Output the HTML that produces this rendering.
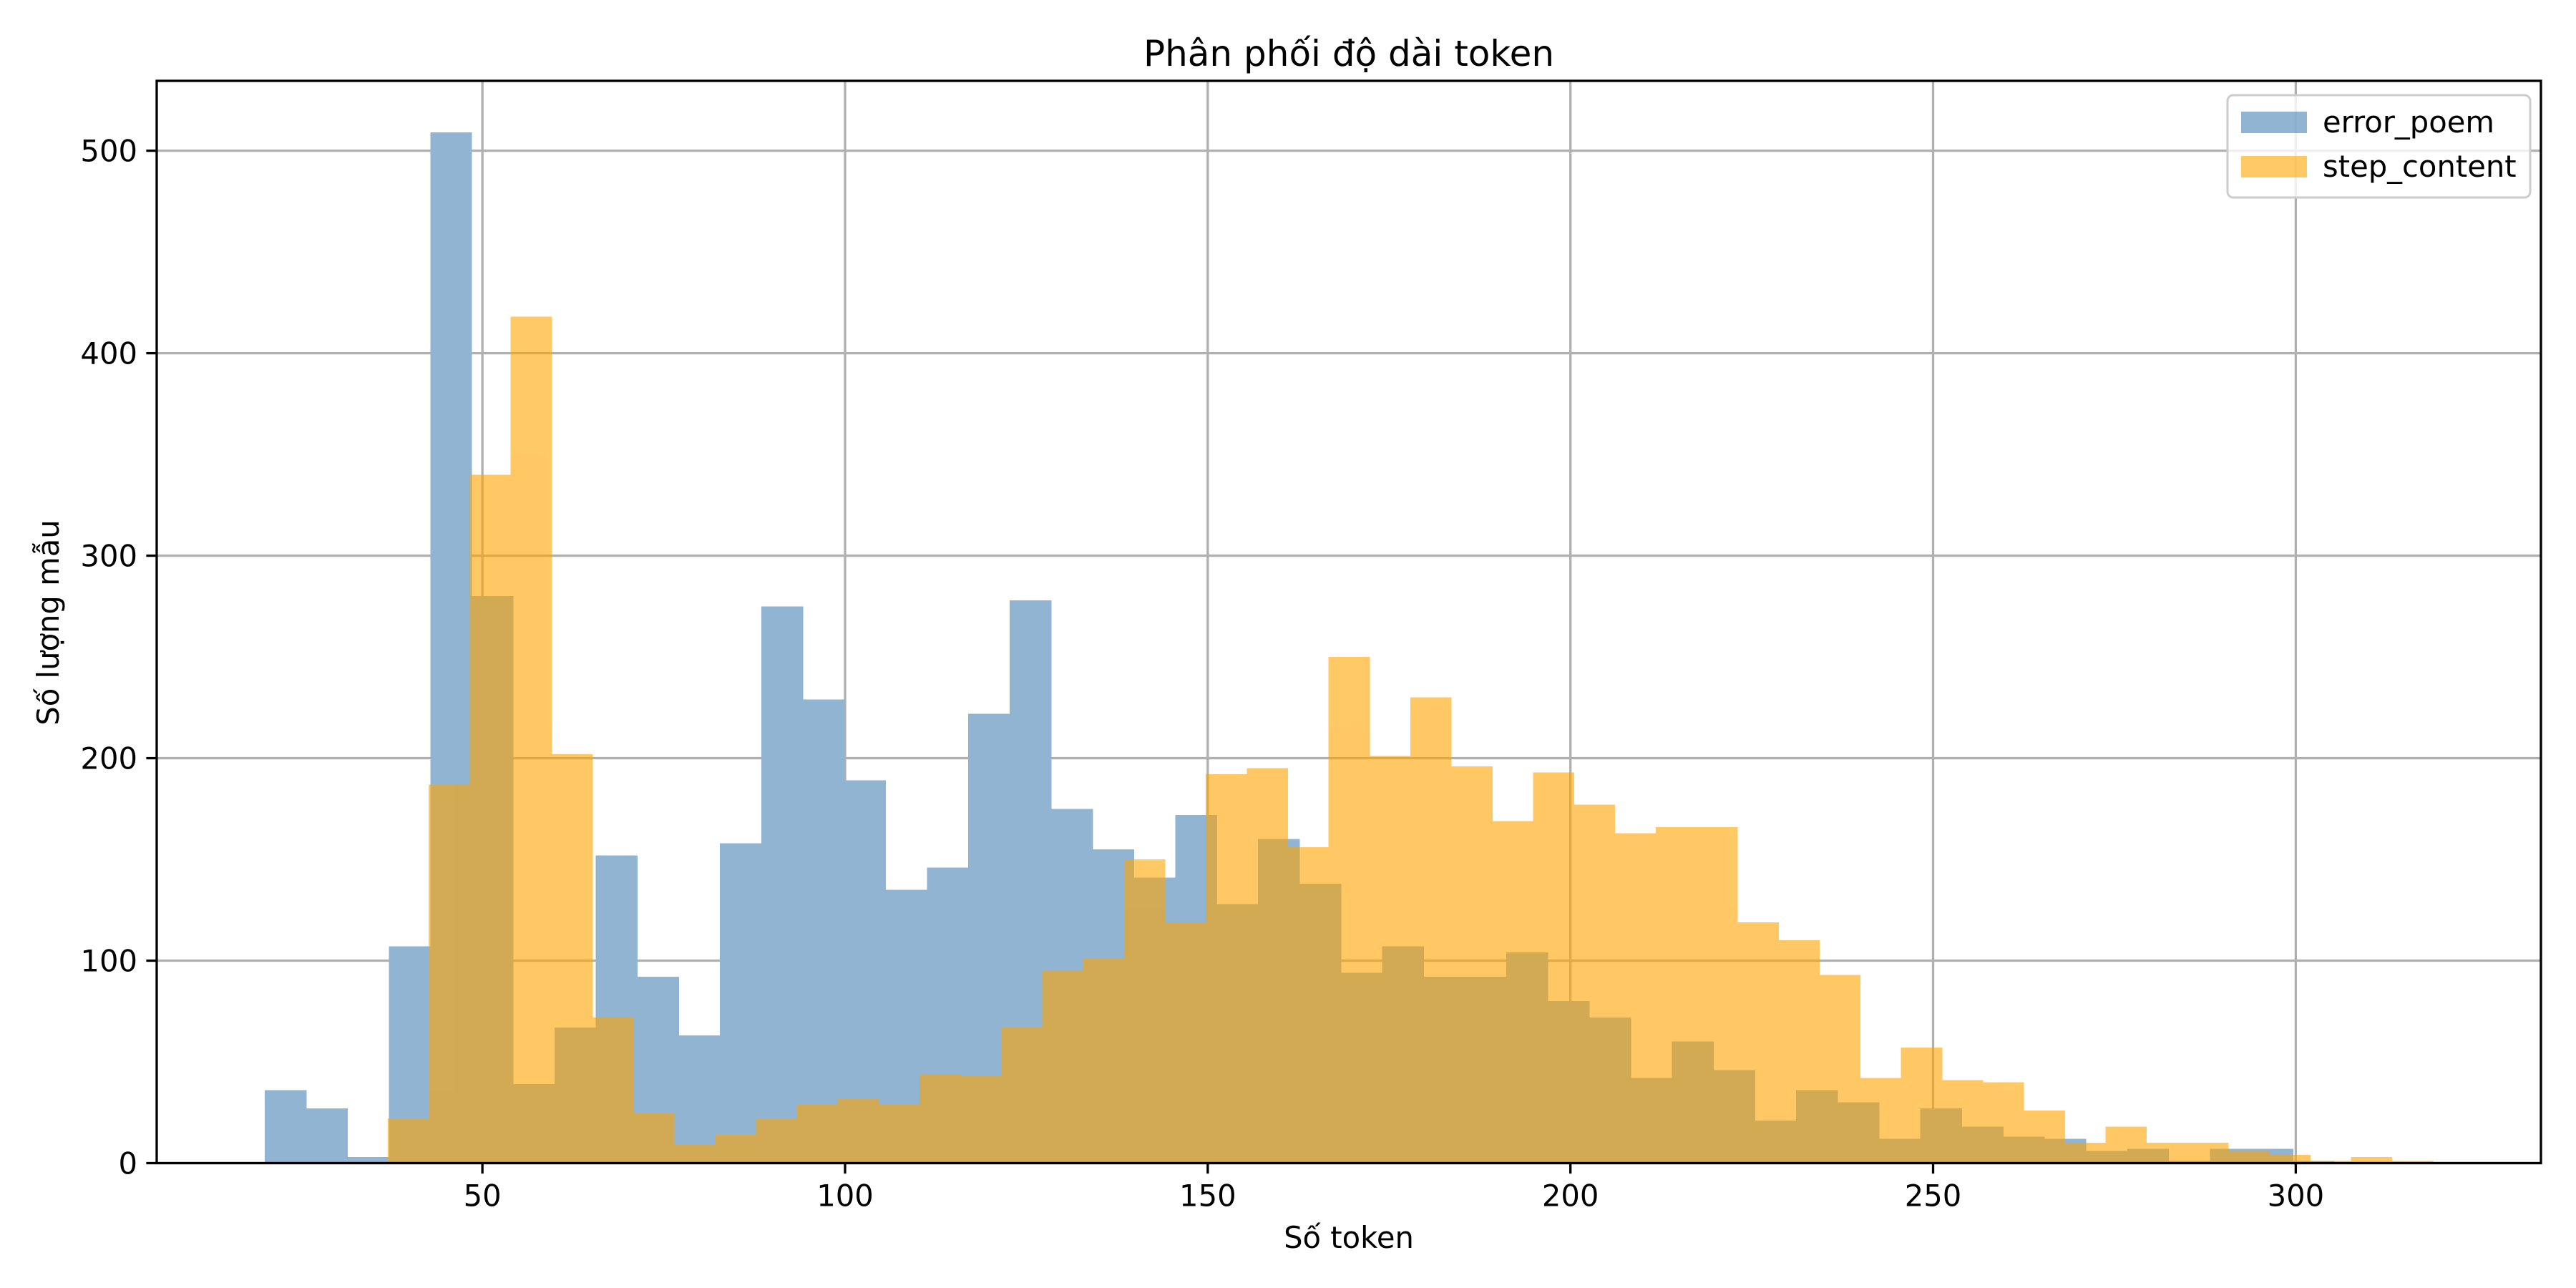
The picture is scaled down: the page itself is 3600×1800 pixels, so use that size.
<!DOCTYPE html>
<html><head><meta charset="utf-8"><style>
html,body{margin:0;padding:0;background:#fff;}
svg{display:block;font-family:"DejaVu Sans","Liberation Sans",sans-serif;}
</style></head><body>
<svg id="chart" width="3600" height="1800" viewBox="0 0 3600 1800" xmlns="http://www.w3.org/2000/svg">
<rect x="0" y="0" width="3600" height="1800" fill="#fff"/>
<g id="grid"></g>
<g id="bars-blue" shape-rendering="crispEdges"></g>
<g id="bars-orange" shape-rendering="crispEdges" opacity="0.6"></g>
<g id="axes"></g>
<text x="1885" y="92" font-size="50" text-anchor="middle" fill="#000">Phân phối độ dài token</text>
<text x="1885" y="1744" font-size="41.7" text-anchor="middle" fill="#000">Số token</text>
<text transform="translate(82,870) rotate(-90)" font-size="41.7" text-anchor="middle" fill="#000">Số lượng mẫu</text>
<g>
<rect x="3113" y="133" width="423" height="143" rx="8" fill="#fff" fill-opacity="0.8" stroke="#cccccc" stroke-width="3"/>
<rect x="3132" y="156" width="92" height="30" fill="#4682b4" fill-opacity="0.6"/>
<text x="3246" y="185" font-size="41.7" fill="#000">error_poem</text>
<rect x="3132" y="218" width="92" height="30" fill="#ffa500" fill-opacity="0.6"/>
<text x="3246" y="247" font-size="41.7" fill="#000">step_content</text>
</g>
</svg>
<script>
const blueCounts = [36,27,3,107,509,280,39,67,152,92,63,158,275,229,189,135,146,222,278,175,155,141,172,128,160,138,94,107,92,92,104,80,72,42,60,46,21,36,30,12,27,18,13,12,6,7,1,7,7,1];
const orangeCounts = [22,187,340,418,202,72,25,9,14,22,29,32,29,44,43,67,95,101,150,119,192,195,156,250,201,230,196,169,193,177,163,166,166,119,110,93,42,57,41,40,26,10,18,10,10,6,4,1,3,1];
const blueBinStart = 19.99;
const blueBinWidth = 5.706;
const orangeBinStart = 36.97;
const orangeBinWidth = 5.638;
const xTicks = [50,100,150,200,250,300];
const yTicks = [0,100,200,300,400,500];

const NS = "http://www.w3.org/2000/svg";
const L = 219, R = 3551, T = 113, B = 1625.5;
const xMin = 5.1, xMax = 333.8, yMax = 534.5;
function xs(v){ return L + (v - xMin) / (xMax - xMin) * (R - L); }
function ys(v){ return B - v / yMax * (B - T); }
function mk(tag, attrs, parent){
  const e = document.createElementNS(NS, tag);
  for (const k in attrs) e.setAttribute(k, attrs[k]);
  parent.appendChild(e);
  return e;
}
const grid = document.getElementById('grid');
const barsBlue = document.getElementById('bars-blue');
const barsOrange = document.getElementById('bars-orange');
const axes = document.getElementById('axes');

xTicks.forEach(t => {
  const g = mk('line', {x1: xs(t), x2: xs(t), y1: T, y2: B, stroke: '#b0b0b0', 'stroke-width': 3.3}, grid);
  
  
});
yTicks.forEach(t => {
  const g = mk('line', {x1: L, x2: R, y1: ys(t), y2: ys(t), stroke: '#b0b0b0', 'stroke-width': 3.3}, grid);
  
  
});

blueCounts.forEach((c, i) => {
  const x0 = xs(blueBinStart + i * blueBinWidth), x1 = xs(blueBinStart + (i + 1) * blueBinWidth);
  const r = mk('rect', {x: x0, y: ys(c), width: x1 - x0 + 0.6, height: B - ys(c), fill: '#90b4d2'}, barsBlue);
  
  
});
orangeCounts.forEach((c, i) => {
  const x0 = xs(orangeBinStart + i * orangeBinWidth), x1 = xs(orangeBinStart + (i + 1) * orangeBinWidth);
  const r = mk('rect', {x: x0, y: ys(c), width: x1 - x0 + 0.6, height: B - ys(c), fill: '#ffa500'}, barsOrange);
  
  
});

const frame = mk('rect', {x: L, y: T, width: R - L, height: B - T, fill: 'none', stroke: '#000', 'stroke-width': 3.3}, axes);



xTicks.forEach(t => {
  const tk = mk('line', {x1: xs(t), x2: xs(t), y1: B, y2: B + 14.6, stroke: '#000', 'stroke-width': 3.3}, axes);
  
  
  const lb = mk('text', {x: xs(t), y: B + 60, 'font-size': 41.7, 'text-anchor': 'middle', fill: '#000'}, axes);
  lb.textContent = t;
  
  
});
yTicks.forEach(t => {
  const tk = mk('line', {x1: L - 14.6, x2: L, y1: ys(t), y2: ys(t), stroke: '#000', 'stroke-width': 3.3}, axes);
  
  
  const lb = mk('text', {x: L - 27, y: ys(t) + 15, 'font-size': 41.7, 'text-anchor': 'end', fill: '#000'}, axes);
  lb.textContent = t;
  
  
});
</script>
</body></html>
